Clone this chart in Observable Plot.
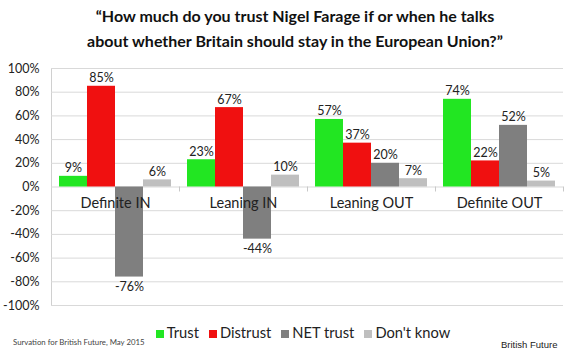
<!DOCTYPE html>
<html>
<head>
<meta charset="utf-8">
<script src="https://cdn.jsdelivr.net/npm/d3@7"></script>
<script src="https://cdn.jsdelivr.net/npm/@observablehq/plot@0.6"></script>
<style>
  html, body { margin: 0; padding: 0; background: #fff; }
  #wrap { position: relative; width: 570px; height: 355px; overflow: hidden; font-family: Lato, "Open Sans", sans-serif; }
  #chart { position: absolute; left: 0; top: 0; }
  .title { position: absolute; left: 0; width: 590px; text-align: center; font-weight: bold; font-size: 16px; color: #111; white-space: nowrap; }
  #legend { position: absolute; left: 0; width: 606px; top: 323px; text-align: center; font-size: 14.7px; color: #222; white-space: nowrap; }
  #legend span.item { margin: 0 5px; }
  #legend span.sw { display: inline-block; width: 8px; height: 8px; margin-right: 3px; }
  #cap1 { position: absolute; left: 13px; top: 337px; font-size: 7.8px; color: #444; }
  #cap2 { position: absolute; left: 501px; top: 339px; font-size: 9.5px; color: #222; font-family: "Liberation Sans", Arial, sans-serif; }
</style>
</head>
<body>
<div id="wrap">
  <div id="chart"></div>
  <div class="title" style="top:6px">“How much do you trust Nigel Farage if or when he talks</div>
  <div class="title" style="top:31px">about whether Britain should stay in the European Union?”</div>
  <div id="legend"></div>
  <div id="cap1">Survation for British Future, May 2015</div>
  <div id="cap2">British Future</div>
</div>
<script>
const categories = ["Definite IN", "Leaning IN", "Leaning OUT", "Definite OUT"];
const series = ["Trust", "Distrust", "NET trust", "Don't know"];
const colors = ["#22e622", "#f01010", "#7f7f7f", "#bfbfbf"];
const trust = [9, 23, 57, 74];
const distrust = [85, 67, 37, 22];
const netTrust = [-76, -44, 20, 52];
const dontKnow = [6, 10, 7, 5];
const yTicks = [-100, -80, -60, -40, -20, 0, 20, 40, 60, 80, 100];

const seriesValues = [trust, distrust, netTrust, dontKnow];
const data = [];
categories.forEach((c, i) => series.forEach((s, j) => data.push({category: c, series: s, value: seriesValues[j][i]})));

const plot = Plot.plot({
  width: 570,
  height: 355,
  marginTop: 68,
  marginBottom: 50,
  marginLeft: 50,
  marginRight: 7,
  style: {fontFamily: "Lato, 'Open Sans', sans-serif", background: "transparent"},
  fx: {domain: categories, padding: 0, axis: null},
  x: {domain: series, paddingInner: 0, paddingOuter: 0.24, axis: null},
  y: {domain: [-100, 100], ticks: yTicks, tickFormat: d => d + "%", label: null},
  color: {domain: series, range: colors},
  marks: [
    Plot.ruleY(yTicks, {stroke: "#d9d9d9", strokeWidth: 1}),
    Plot.axisY({ticks: yTicks, tickFormat: d => d + "%", tickSize: 0, tickPadding: 12, fontSize: 12.5, color: "#222", label: null}),
    Plot.barY(data, {fx: "category", x: "series", y: "value", fill: "series"}),
    Plot.text(data.filter(d => d.value >= 0), {fx: "category", x: "series", y: "value", text: d => d.value + "%", lineAnchor: "bottom", dy: -4, fontSize: 12.5, fill: "#222"}),
    Plot.text(data.filter(d => d.value < 0), {fx: "category", x: "series", y: "value", text: d => d.value + "%", lineAnchor: "top", dy: 5, fontSize: 12.5, fill: "#222"}),
    Plot.text(categories, {fx: d => d, y: d => 0, text: d => d, lineAnchor: "middle", dy: 16, fontSize: 14.5, fill: "#222"})
  ]
});
document.getElementById("chart").appendChild(plot);

// left axis line and category boundary ticks, positioned from the plot's own scales
const fx = plot.scale("fx");
const ys = plot.scale("y");
const svg = d3.select(plot);
const y0 = ys.apply(0);
const [yTop, yBot] = [ys.apply(100), ys.apply(-100)];
const bounds = categories.map(c => fx.apply(c)).concat([fx.apply(categories[categories.length - 1]) + fx.bandwidth]);
svg.insert("line", ":first-child")
  .attr("x1", bounds[0] + 0.5).attr("x2", bounds[0] + 0.5)
  .attr("y1", yTop).attr("y2", yBot)
  .attr("stroke", "#d0d0d0");
svg.selectAll("line.bt").data(bounds.slice(1)).join("line")
  .attr("class", "bt")
  .attr("x1", d => d + 0.5).attr("x2", d => d + 0.5)
  .attr("y1", y0).attr("y2", y0 + 5)
  .attr("stroke", "#c8c8c8");

// legend
const legend = d3.select("#legend");
series.forEach((s, i) => {
  const item = legend.append("span").attr("class", "item");
  item.append("span").attr("class", "sw").style("background", colors[i]);
  item.append("span").text(s);
});
</script>
</body>
</html>
